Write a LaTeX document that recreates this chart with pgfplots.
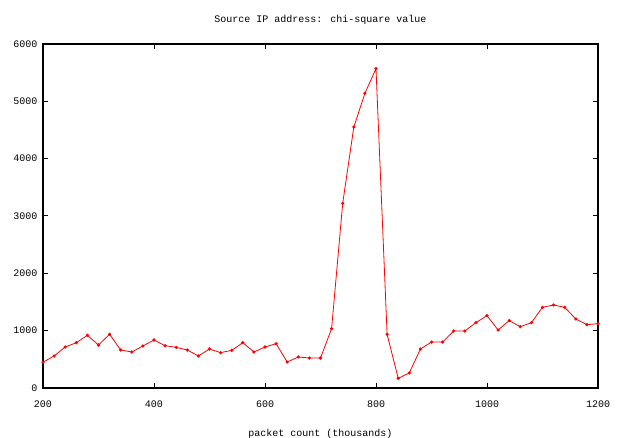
\documentclass[border=0pt]{standalone}
\usepackage{pgfplots}
\pgfplotsset{compat=1.18}
\usepackage{fontspec}
\setmainfont{Liberation Mono}
\setmonofont{Liberation Mono}

\pgfplotstableread{
x y
200 450
220 558
240 715
260 790
280 919
300 750
320 936
340 663
360 628
380 733
400 837
420 738
440 709
460 663
480 558
500 680
520 616
540 657
560 790
580 628
600 715
620 773
640 453
660 541
680 523
700 523
720 1035
740 3221
760 4552
780 5140
800 5570
820 936
840 169
860 262
880 680
900 802
920 802
940 994
960 994
980 1140
1000 1262
1020 1012
1040 1175
1060 1070
1080 1140
1100 1407
1120 1448
1140 1407
1160 1204
1180 1105
1200 1122
}\chidata

\begin{document}
\begin{tikzpicture}
% page the size of the reference, axis box placed as in it
\path[use as bounding box] (-43pt,-50pt) rectangle (575pt,388pt);
\begin{axis}[
    at={(0pt,0pt)}, anchor=south west,
    width=555pt, height=344pt,
    scale only axis,
    xmin=200, xmax=1200,
    ymin=0, ymax=6000,
    xtick={200,400,...,1200},
    ytick={0,1000,...,6000},
    axis line style={black, line width=1.3pt},
    tick style={black, line width=1pt},
    major tick length=5pt,
    tick align=inside,
    font=\fontsize{10}{11}\selectfont,
    /pgf/number format/assume math mode=true,
    /pgf/number format/1000 sep={},
    xticklabel style={yshift=-9pt},
    yticklabel style={xshift=-2pt},
    title={Source IP address: chi-square value},
    title style={yshift=10pt},
    xlabel={packet count (thousands)},
    xlabel style={yshift=-15pt},
    scaled y ticks=false,
]
\addplot[red, line width=0.8pt, mark=*, mark size=1.2pt,
    mark options={fill=red, draw=red}] table[x=x, y=y] {\chidata};
\end{axis}
\end{tikzpicture}
\end{document}
